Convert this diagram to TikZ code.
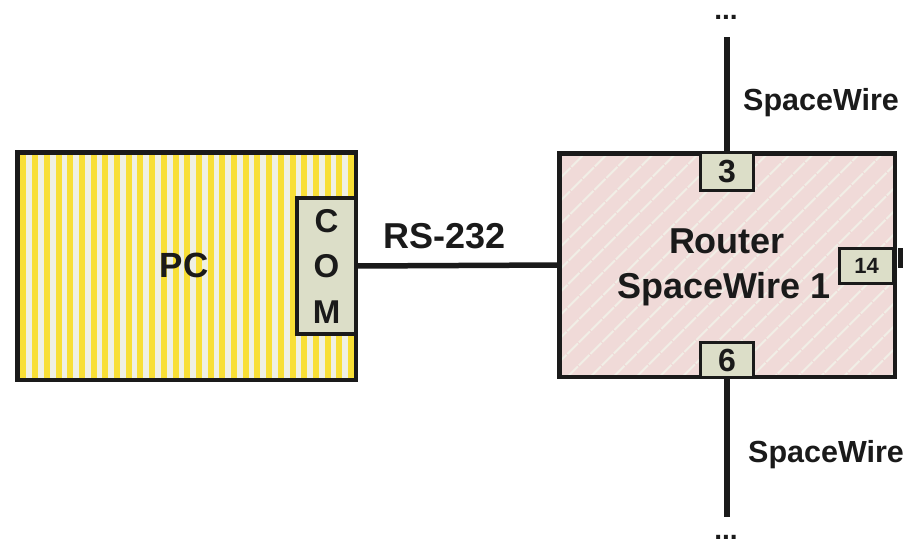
\documentclass[tikz,border=0pt]{standalone}
\usepackage{fontspec}
\setmainfont{Liberation Sans}
\usetikzlibrary{patterns.meta}
\definecolor{ink}{HTML}{1A1A1A}
\definecolor{pcyellow}{HTML}{F8DF36}
\definecolor{pclight}{HTML}{EFF0E4}
\definecolor{rtpink}{HTML}{F0DAD8}
\definecolor{rtlight}{HTML}{F1EEE6}
\definecolor{portfill}{HTML}{DCDEC8}
\begin{document}
\begin{tikzpicture}[x=1pt,y=-1pt,
  box/.style={draw=ink, line width=4.5pt, inner sep=0pt, outer sep=0pt},
  pcbox/.style={box, preaction={fill=pclight}, pattern={Lines[angle=90,distance=11.7pt,line width=6pt]}, pattern color=pcyellow},
  rtbox/.style={box, preaction={fill=rtpink}, pattern={Lines[angle=45,distance=17pt,line width=2.2pt]}, pattern color=rtlight},
  port/.style={draw=ink, line width=3pt, fill=portfill, inner sep=0pt, outer sep=0pt, text=ink, font=\bfseries\fontsize{32}{32}\selectfont},
  wire/.style={draw=ink, line width=5.5pt},
  lbl/.style={text=ink, inner sep=0pt, font=\bfseries\fontsize{#1}{#1}\selectfont},
  lbl/.default=36,
  dots/.style={lbl=28, text height=5pt, text depth=0pt}
]
\fill[white] (0,0) rectangle (903,544);
\useasboundingbox (0,0) rectangle (903,544);

% PC
\node[pcbox, minimum width=338.5pt, minimum height=227.5pt] (pc) at (186.5,266) {};
\node[lbl=35, anchor=base] (pclabel) at (184,277) {PC};
\node[port, line width=4pt, minimum width=59pt, minimum height=136pt, align=center,
      font=\bfseries\fontsize{33}{45.5}\selectfont] (com) at (326.5,266) {C\\O\\M};

% Router
\node[rtbox, minimum width=335.5pt, minimum height=223.5pt] (router) at (727,265) {};
\node[lbl, anchor=base] (rline1) at (727,253) {Router};
\node[lbl, anchor=base] (rline2) at (724,298) {SpaceWire 1};

% ports
\node[port, minimum width=53pt, minimum height=38pt] (p3) at (727,171.5) {3};
\node[port, minimum width=53pt, minimum height=35pt] (p6) at (727,360) {6};
\node[port, minimum width=54pt, minimum height=35pt, font=\bfseries\fontsize{22}{22}\selectfont] (p14) at (866.5,266) {14};

% connectors
\draw[wire] (com.east) -- (router.west);
\node[lbl, anchor=base] (rs) at (445,248) {RS-232};

\coordinate (topend) at (727,37);
\coordinate (botend) at (727,517);
\draw[wire] (topend) -- (p3.north);
\draw[wire] (p6.south) -- (botend);
\fill[ink] (898,248) rectangle (903,268);

\node[lbl=30.5, anchor=base west] (swtop) at (743,110) {SpaceWire};
\node[lbl=30.5, anchor=base west] (swbot) at (748,462) {SpaceWire};
\node[dots, anchor=base] (dtop) at (726,19) {...};
\node[dots, anchor=base] (dbot) at (726,539) {...};
\end{tikzpicture}
\end{document}
